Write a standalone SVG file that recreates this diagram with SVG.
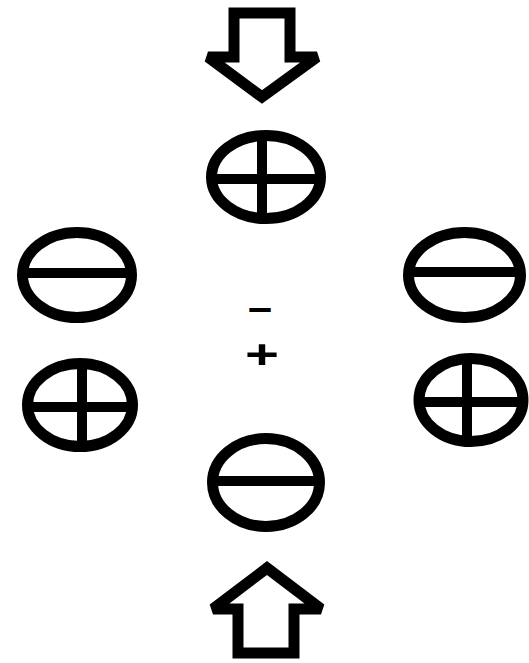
<svg xmlns="http://www.w3.org/2000/svg" width="529" height="663" viewBox="0 0 529 663">
<style>
.ring{fill:none;stroke:#000;stroke-width:11}
.bar{stroke:#000;stroke-width:10;fill:none}
.arrow{fill:#fff;stroke:#000;stroke-width:11;stroke-linejoin:miter;stroke-miterlimit:2}
.sign{font-family:"Liberation Sans",Arial,sans-serif;font-weight:bold;font-size:40px;fill:#000}
</style>
<rect width="529" height="663" fill="#fff"/>
<g id="arrow-top"><polygon class="arrow" points="234,13 290,13 290,57 317,57 262,97 208,57 234,57"/></g>
<g id="arrow-bottom"><polygon class="arrow" points="267,568 321,609 294,609 294,653 238,653 238,609 213,609"/></g>
<g id="plus-top">
<ellipse class="ring" cx="266" cy="177" rx="54.5" ry="41.5"/>
<line class="bar" x1="212" y1="179" x2="320" y2="179"/>
<line class="bar" x1="262" y1="136" x2="262" y2="218"/>
</g>
<g id="minus-left">
<ellipse class="ring" cx="77" cy="275" rx="54.5" ry="42.5"/>
<line class="bar" x1="23" y1="273" x2="131" y2="273"/>
</g>
<g id="plus-left">
<ellipse class="ring" cx="80" cy="405" rx="52.5" ry="41.5"/>
<line class="bar" x1="28" y1="407" x2="132" y2="407"/>
<line class="bar" x1="82" y1="364" x2="82" y2="446"/>
</g>
<g id="minus-right">
<ellipse class="ring" cx="464.5" cy="275" rx="56" ry="42.5"/>
<line class="bar" x1="409" y1="272" x2="520" y2="272"/>
</g>
<g id="plus-right">
<ellipse class="ring" cx="471" cy="400" rx="52" ry="41.5"/>
<line class="bar" x1="419" y1="402" x2="523" y2="402"/>
<line class="bar" x1="467" y1="359" x2="467" y2="441"/>
</g>
<g id="minus-bottom">
<ellipse class="ring" cx="266" cy="482.5" rx="53.5" ry="44"/>
<line class="bar" x1="213" y1="481" x2="319" y2="481"/>
</g>
<g id="labels">
<text class="sign" x="248" y="321" textLength="24" lengthAdjust="spacingAndGlyphs">–</text>
<text class="sign" x="245" y="368" textLength="34" lengthAdjust="spacingAndGlyphs">+</text>
</g>
</svg>
